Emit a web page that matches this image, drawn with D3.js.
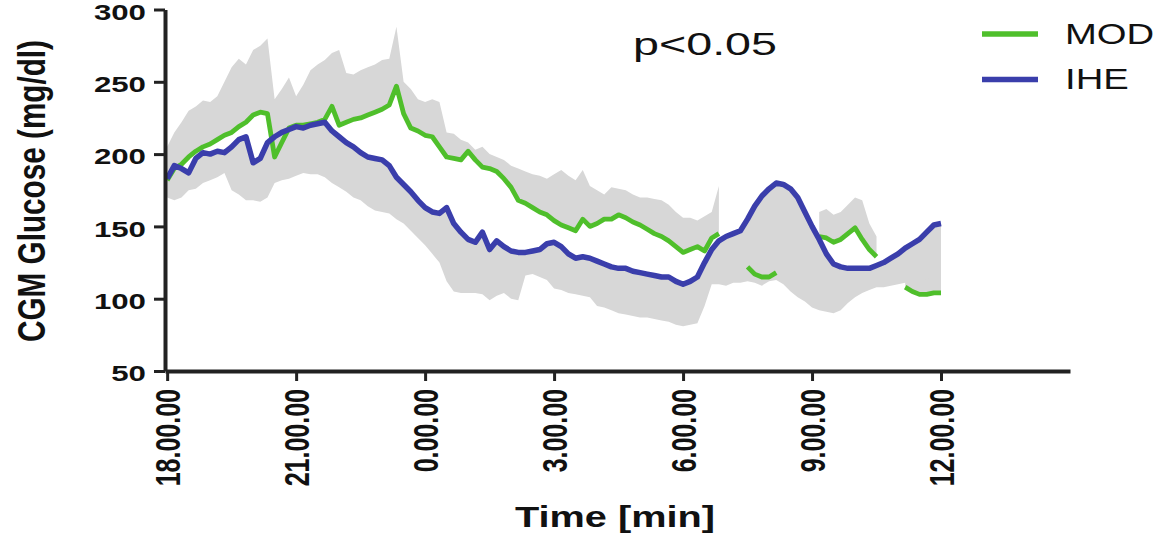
<!DOCTYPE html>
<html><head><meta charset="utf-8">
<script src="https://cdn.jsdelivr.net/npm/d3@7"></script>
<style>body{margin:0;background:#fff} svg{display:block}</style>
</head><body><svg id="c" width="1156" height="537"></svg>
<script>
// ---- data ----
const stepMinutes = 10;               // CGM sampling step used when reading values
const xTickHours = [0, 3, 6, 9, 12, 15, 18];
const xTickLabels = ["18.00.00", "21.00.00", "0.00.00", "3.00.00", "6.00.00", "9.00.00", "12.00.00"];
const yTicks = [50, 100, 150, 200, 250, 300];
const seriesNames = ["MOD", "IHE"];
const pLabel = "p<0.05";

const mod = [
  182,190,193,198,202,205,207,210,213,215,
  219,222,227,229,228,198,208,218,220,220,
  221,222,224,233,220,222,224,225,227,229,
  231,234,247,228,218,216,213,212,205,198,
  197,196,202,196,191,190,188,183,177,168,
  166,163,160,158,154,151,149,147,155,150,
  152,155,155,158,156,153,151,148,145,143,
  140,136,132,134,136,133,142,145,null,null,
  null,122,117,115,115,118,null,null,null,null,
  null,143,142,139,141,145,149,141,134,129,
  null,null,null,108,105,103,103,104,104
];
const modUpper = [
  205,215,222,230,233,237,236,240,250,260,
  266,262,272,275,280,238,245,253,240,248,
  258,262,265,270,272,256,255,258,260,262,
  265,266,288,250,245,238,236,238,236,215,
  214,210,208,203,205,200,198,196,192,190,
  188,186,185,183,186,189,185,182,189,178,
  175,172,177,176,175,172,170,170,169,168,
  165,160,156,156,154,157,160,178,null,null,
  null,128,126,125,125,127,null,null,null,null,
  null,160,162,158,160,165,170,168,152,143,
  null,null,null,125,124,122,125,145,138
];
const ihe = [
  183,192,190,187,197,201,200,202,201,205,
  210,212,194,197,208,212,215,217,219,218,
  220,221,222,216,212,208,205,201,198,197,
  196,192,184,179,174,168,163,160,159,163,
  152,146,141,139,146,134,140,136,133,132,
  132,133,134,138,139,136,131,128,129,128,
  126,124,122,121,121,119,118,117,116,115,
  115,112,110,112,115,125,134,140,143,145,
  147,155,164,171,176,180,179,176,170,160,
  150,141,131,124,122,121,121,121,121,123,
  125,128,131,135,138,141,146,151,152
];
const iheLower = [
  170,168,170,175,176,180,182,184,187,175,
  172,168,168,167,170,180,182,183,185,187,
  186,186,184,180,177,174,170,168,164,161,
  160,159,155,152,147,142,137,131,125,112,
  105,104,104,104,103,99,102,104,100,99,
  116,117,115,113,107,106,104,103,102,101,
  95,94,92,90,89,88,87,87,86,85,
  84,82,81,82,83,95,110,110,109,111,
  111,112,111,109,112,113,110,105,101,98,
  94,92,91,90,92,97,101,104,106,108,
  108,109,110,111,112,112,114,115,118
];

// ---- layout / style ----
const FONT = "'Liberation Sans', Arial, sans-serif";
const SX = 1.42;                     // horizontal stretch of the original image
const colors = { MOD: "#4fbf2b", IHE: "#3a3eab" };
const bandColor = "#d7d7d7";
const axisColor = "#222";

const svg = d3.select("#c");
const x = d3.scaleLinear().domain([-0.05, 21]).range([165, 1070]);
const y = d3.scaleLinear().domain([50, 300]).range([371, 9.5]);
const hours = i => i * stepMinutes / 60;

// bands (MOD error shown above, IHE error shown below)
function bandPath(vals, bound) {
  return d3.area()
    .defined((d, i) => vals[i] != null && bound[i] != null)
    .x((d, i) => x(hours(i)))
    .y0((d, i) => y(vals[i]))
    .y1((d, i) => y(bound[i]))(vals);
}
svg.append("path").attr("d", bandPath(mod, modUpper)).attr("fill", bandColor);
svg.append("path").attr("d", bandPath(ihe, iheLower)).attr("fill", bandColor);

// lines
const line = d3.line().defined(d => d != null).x((d, i) => x(hours(i))).y(d => y(d));
svg.append("path").attr("d", line(mod)).attr("fill", "none")
  .attr("stroke", colors.MOD).attr("stroke-width", 4.8).attr("stroke-linejoin", "round");
svg.append("path").attr("d", line(ihe)).attr("fill", "none")
  .attr("stroke", colors.IHE).attr("stroke-width", 5.5).attr("stroke-linejoin", "round");

// y axis
const gy = svg.append("g").attr("transform", "translate(165,0)")
  .call(d3.axisLeft(y).tickValues(yTicks).tickSize(11).tickSizeOuter(0));
gy.select(".domain").attr("stroke", axisColor).attr("stroke-width", 4);
gy.selectAll(".tick line").attr("stroke", axisColor).attr("stroke-width", 3);
gy.selectAll(".tick text")
  .attr("x", 0).attr("dy", null)
  .attr("text-anchor", "end").attr("dominant-baseline", "central")
  .attr("transform", `translate(-19,2.5) scale(${SX},1)`)
  .attr("fill", "#111")
  .style("font", `bold 22px ${FONT}`);

// x axis
const gx = svg.append("g").attr("transform", "translate(0,371)")
  .call(d3.axisBottom(x).tickValues(xTickHours).tickFormat((d, i) => xTickLabels[i])
    .tickSize(10).tickSizeOuter(0));
gx.select(".domain").attr("stroke", axisColor).attr("stroke-width", 4);
gx.selectAll(".tick line").attr("stroke", axisColor).attr("stroke-width", 3);
gx.selectAll(".tick text")
  .attr("x", 0).attr("y", 0).attr("dy", null)
  .attr("text-anchor", "end").attr("dominant-baseline", "central")
  .attr("transform", `translate(0,18) scale(${SX},1) rotate(-90)`)
  .attr("fill", "#111")
  .style("font", `bold 25px ${FONT}`);

// axis titles
svg.append("text")
  .attr("transform", "translate(615,527)")
  .attr("text-anchor", "middle")
  .attr("textLength", 200).attr("lengthAdjust", "spacingAndGlyphs")
  .attr("fill", "#111")
  .style("font", `bold 30px ${FONT}`)
  .text("Time [min]");
svg.append("text")
  .attr("transform", `translate(32,191) scale(${SX},1) rotate(-90)`)
  .attr("text-anchor", "middle").attr("dominant-baseline", "central")
  .attr("textLength", 302).attr("lengthAdjust", "spacingAndGlyphs")
  .attr("fill", "#111")
  .style("font", `bold 27px ${FONT}`)
  .text("CGM Glucose (mg/dl)");

// p-value annotation
svg.append("text")
  .attr("x", 633).attr("y", 55)
  .attr("textLength", 144).attr("lengthAdjust", "spacingAndGlyphs")
  .attr("fill", "#111")
  .style("font", `32px ${FONT}`)
  .text(pLabel);

// legend
const lg = svg.append("g").selectAll("g").data(seriesNames).join("g")
  .attr("transform", (d, i) => `translate(0,${34 + i * 45.5})`);
lg.append("line").attr("x1", 982).attr("x2", 1038).attr("y1", 0).attr("y2", 0)
  .attr("stroke", d => colors[d]).attr("stroke-width", 5.5);
lg.append("text")
  .attr("transform", "translate(1065,9.5) scale(1.32,1)")
  .attr("fill", "#111")
  .style("font", `29px ${FONT}`)
  .text(d => d);
</script></body></html>
